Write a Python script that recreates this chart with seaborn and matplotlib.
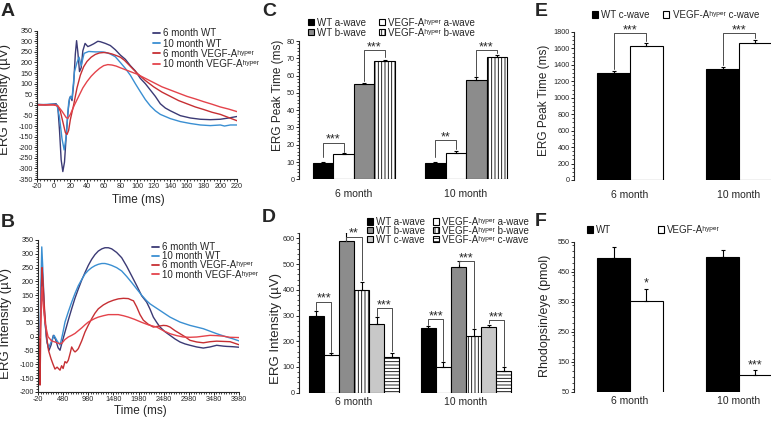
import numpy as np
import pandas as pd
import seaborn as sns
import matplotlib.pyplot as plt
from matplotlib.ticker import MultipleLocator
from matplotlib.patches import Patch
from matplotlib.lines import Line2D

sns.set_style('ticks')
plt.rcParams['font.family'] = ['Liberation Sans', 'DejaVu Sans']
plt.rcParams['axes.unicode_minus'] = False
plt.rcParams['hatch.linewidth'] = 0.6
plt.rcParams['axes.linewidth'] = 0.8

HYP = 'VEGF-A\u02b0\u02b8\u1d56\u1d49\u02b3'

# ---------------- data ----------------
trace_names = ['6 month WT', '10 month WT', '6 month ' + HYP, '10 month ' + HYP]
trace_colors = ['#3b3a75', '#3a8fd2', '#c62f33', '#e4434b']

# A: a/b-wave traces
a_t_wt6 = [-20, -10, 0, 3, 5, 7, 9, 11, 13, 15, 17, 19, 20.5, 22, 24, 26, 27.5, 29, 31, 33, 35, 37.7, 41, 44, 48,
           53, 56, 62, 68, 74, 80, 86, 92, 98, 104, 110, 116, 122, 128, 134, 140, 152, 164, 176, 188, 200, 210, 220]
a_v_wt6 = [3, 0, 4, 5, -10, -120, -260, -315, -270, -150, -40, 30, 40, 20, 100, 240, 303, 250, 157, 175, 255, 290,
           275, 280, 288, 300, 298, 290, 280, 260, 235, 215, 185, 160, 125, 100, 70, 40, 5, -15, -28, -51, -62, -68,
           -70, -68, -62, -55]
a_t_wt10 = [-20, -10, 0, 4, 7, 10, 12.6, 15, 18, 20, 22, 25, 28, 30.5, 33, 36.5, 42, 50, 58, 62, 68, 74, 80, 86, 92,
            98, 104, 110, 116, 122, 128, 140, 152, 164, 176, 188, 200, 205, 212, 220]
a_v_wt10 = [0, 2, 3, 0, -60, -160, -213, -150, 10, 40, 30, 157, 200, 225, 185, 243, 252, 250, 250, 248, 240, 227,
            200, 172, 140, 100, 62, 25, -5, -28, -45, -65, -79, -88, -95, -98, -95, -100, -95, -95]
a_t_vh6 = [-20, 0, 5, 8, 11, 14, 16, 18, 20, 24, 28, 32, 36, 40, 45, 50, 55, 60, 65, 70, 75, 80, 85, 90, 95, 100,
           110, 120, 130, 140, 150, 160, 170, 180, 190, 200, 210, 220]
a_v_vh6 = [0, 0, -5, -30, -80, -130, -140, -120, -70, 0, 80, 140, 180, 205, 225, 238, 245, 247, 245, 240, 233, 225,
           210, 190, 170, 150, 115, 85, 60, 40, 20, 5, -10, -22, -35, -45, -60, -75]
a_t_vh10 = [-20, 0, 5, 10, 15, 17, 20, 25, 30, 35, 40, 45, 50, 55, 60, 65, 70, 75, 80, 90, 100, 110, 120, 130, 140,
            150, 160, 170, 180, 190, 200, 210, 220]
a_v_vh10 = [0, 0, -5, -30, -60, -64, -45, 0, 40, 80, 110, 135, 155, 172, 185, 190, 188, 183, 175, 160, 145, 125, 105,
            85, 70, 55, 40, 28, 15, 3, -10, -20, -32]

# B: c-wave traces
b_t_wt6 = [-20, 0, 20, 40, 60, 80, 120, 160, 200, 240, 285, 330, 380, 418, 460, 517, 583, 650, 717, 783, 850, 915,
           981, 1048, 1113, 1180, 1250, 1313, 1380, 1446, 1545, 1645, 1745, 1845, 1944, 2044, 2143, 2209, 2275, 2342,
           2408, 2507, 2607, 2706, 2806, 2905, 3005, 3138, 3270, 3403, 3536, 3669, 3735, 3850, 3980]
b_v_wt6 = [0, 0, -10, 150, 250, 180, 50, -20, -49, -30, 5, -10, -40, -49, -20, 17, 60, 101, 140, 173, 205, 232, 258,
           280, 297, 310, 318, 322, 322, 318, 305, 286, 255, 220, 185, 148, 125, 100, 71, 52, 35, 18, 5, -8, -19, -26,
           -31, -37, -41, -37, -31, -34, -35, -36, -38]
b_t_wt10 = [-20, 0, 20, 40, 55, 75, 110, 150, 190, 240, 300, 360, 420, 470, 517, 583, 650, 717, 783, 850, 915, 981,
            1048, 1113, 1180, 1250, 1313, 1380, 1446, 1545, 1645, 1745, 1845, 1944, 2044, 2143, 2209, 2308, 2408, 2507,
            2607, 2706, 2806, 2905, 3005, 3138, 3270, 3403, 3536, 3669, 3735, 3850, 3980]
b_v_wt10 = [0, 0, 0, 200, 325, 250, 80, -10, -40, -20, 5, -15, -30, 10, 53, 90, 125, 157, 185, 207, 227, 240, 250,
            257, 262, 265, 265, 262, 258, 250, 238, 218, 196, 173, 150, 130, 119, 107, 95, 83, 71, 62, 53, 47, 41, 35,
            29, 20, 11, 3, -1, -7, -15]
b_t_vh6 = [-20, 0, 10, 20, 30, 45, 60, 80, 110, 150, 190, 240, 280, 318, 360, 418, 450, 480, 517, 550, 583, 620, 650,
           690, 717, 750, 783, 850, 915, 981, 1048, 1113, 1180, 1280, 1380, 1480, 1578, 1680, 1777, 1850, 1880, 1944,
           2010, 2076, 2175, 2275, 2374, 2474, 2540, 2607, 2706, 2806, 2905, 3005, 3138, 3270, 3403, 3536, 3669, 3802,
           3900, 3980]
b_v_vh6 = [0, 0, -100, -175, -50, 150, 250, 200, 100, 0, -50, -80, -100, -117, -110, -121, -105, -115, -90, -95, -85,
           -60, -37, -50, -55, -50, -43, -15, 17, 42, 65, 85, 101, 115, 125, 132, 137, 139, 138, 132, 130, 108, 80, 60,
           45, 35, 38, 41, 40, 35, 22, 11, 0, -13, -19, -22, -18, -16, -17, -18, -24, -29]
b_t_vh10 = [-20, 0, 20, 40, 60, 80, 120, 180, 250, 318, 385, 450, 517, 583, 650, 717, 783, 850, 915, 981, 1048, 1113,
            1180, 1280, 1380, 1480, 1578, 1680, 1777, 1900, 2044, 2176, 2342, 2474, 2607, 2740, 2872, 3005, 3138, 3270,
            3403, 3536, 3669, 3800, 3980]
b_v_vh10 = [0, 0, -5, 100, 180, 120, 50, 0, -15, -19, -24, -25, -10, -1, 5, 12, 22, 32, 43, 53, 60, 66, 71, 76, 80,
            80, 80, 76, 71, 63, 52, 43, 35, 22, 11, 4, -1, -2, -1, 2, 5, 4, 2, -2, -3]

months = ['6 month', '10 month']

# C: peak time (ms)
c_series = ['WT a-wave', HYP + ' a-wave', 'WT b-wave', HYP + ' b-wave']
c_values = [[9.5, 9.5], [14.5, 15.5], [55.0, 57.5], [68.5, 70.5]]
c_errors = [[0.3, 0.3], [0.5, 0.8], [0.6, 1.5], [0.7, 1.5]]

# D: amplitude (uV)
d_series = ['WT a-wave', HYP + ' a-wave', 'WT b-wave', HYP + ' b-wave', 'WT c-wave', HYP + ' c-wave']
d_values = [[300, 250], [145, 100], [590, 490], [400, 222], [268, 255], [140, 85]]
d_errors = [[17, 11], [10, 18], [35, 22], [32, 24], [26, 10], [16, 13]]

# E: c-wave peak time (ms)
e_series = ['WT c-wave', HYP + ' c-wave']
e_values = [[1305, 1350], [1635, 1672]]
e_errors = [[25, 30], [32, 35]]

# F: rhodopsin (pmol)
f_series = ['WT', HYP]
f_values = [[497, 500], [352, 107]]
f_errors = [[36, 24], [42, 15]]

bar_colors = ['black', 'white', '#8c8c8c', 'white', '#c8c8c8', 'white']
bar_hatches = [None, None, None, '|||||', None, '-----']

# ---------------- figure ----------------
W, H = 771, 421
fig = plt.figure(figsize=(W / 100, H / 100), dpi=100)


def px_axes(x0, y0, x1, y1):
    return fig.add_axes([x0 / W, 1 - y1 / H, (x1 - x0) / W, (y1 - y0) / H])


def fxy(x, y):
    return (x / W, 1 - y / H)


def tidy(ax, bottom=True):
    sns.despine(ax=ax, bottom=not bottom)
    ax.tick_params(which='major', labelsize=5.2, length=2, width=0.6, pad=1, color='black')
    ax.tick_params(which='minor', length=1.2, width=0.5, color='black')


def traces_panel(ax, ts, vs):
    frames = [pd.DataFrame({'Time': t, 'ERG': v, 'Trace': n}) for t, v, n in zip(ts, vs, trace_names)]
    df = pd.concat(frames, ignore_index=True)
    sns.lineplot(data=df, x='Time', y='ERG', hue='Trace', hue_order=trace_names,
                 palette=dict(zip(trace_names, trace_colors)), estimator=None, sort=False,
                 linewidth=1.0, legend=False, ax=ax)
    return [Line2D([], [], color=c, lw=1.3) for c in trace_colors]


def bar_panel(ax, series, values, errors, width, pad):
    rows = [(m, s, v) for s, vals in zip(series, values) for m, v in zip(months, vals)]
    df = pd.DataFrame(rows, columns=['Month', 'Series', 'Value'])
    sns.barplot(data=df, x='Month', y='Value', hue='Series', order=months, hue_order=series,
                palette=dict(zip(series, bar_colors[:len(series)])), width=width, gap=0,
                errorbar=None, saturation=1, edgecolor='black', linewidth=0.8, legend=False, ax=ax)
    centers = []
    for cont, hatch, vals, errs in zip(ax.containers, bar_hatches, values, errors):
        xs = [p.get_x() + p.get_width() / 2 for p in cont]
        if hatch:
            for p in cont:
                p.set_hatch(hatch)
        ax.errorbar(xs, vals, yerr=[np.zeros(len(errs)), errs], fmt='none', ecolor='black',
                    elinewidth=0.8, capsize=1.5, capthick=0.8, zorder=3)
        centers.append(xs)
    ax.set_xlabel('')
    tidy(ax, bottom=False)
    ax.tick_params(axis='x', length=0, labelsize=7.5, pad=pad)
    return centers


def bracket(ax, centers, spec):
    m, i, j, yl, top, yr, label = spec
    x1, x2 = centers[i][m], centers[j][m]
    ax.plot([x1, x1, x2, x2], [yl, top, top, yr], color='#4d4d4d', lw=0.7, clip_on=False, zorder=4)
    ax.text((x1 + x2) / 2, top, label, ha='center', va='baseline', fontsize=9, clip_on=False)


def square_handles(n):
    return [Patch(facecolor=bar_colors[k], edgecolor='black', linewidth=0.8, hatch=bar_hatches[k])
            for k in range(n)]


legend_kw = dict(frameon=False, borderpad=0, fontsize=7, handletextpad=0.35, borderaxespad=0)

# ---- A ----
axA = px_axes(37, 30.7, 237, 179)
hA = traces_panel(axA, [a_t_wt6, a_t_wt10, a_t_vh6, a_t_vh10], [a_v_wt6, a_v_wt10, a_v_vh6, a_v_vh10])
axA.set_xlim(-20, 220)
axA.set_ylim(-350, 350)
axA.set_xticks(np.arange(-20, 221, 20))
axA.set_yticks(np.arange(-350, 351, 50))
axA.xaxis.set_minor_locator(MultipleLocator(4))
axA.yaxis.set_minor_locator(MultipleLocator(10))
axA.set_xlabel('Time (ms)', fontsize=8.5)
axA.set_ylabel('ERG Intensity (µV)', fontsize=9.5)
axA.xaxis.set_label_coords(0.507, -0.1)
axA.yaxis.set_label_coords(-0.131, 0.533)
tidy(axA)
axA.legend(hA, trace_names, loc='upper left', bbox_to_anchor=fxy(153, 28.5), bbox_transform=fig.transFigure,
           handlelength=0.7, labelspacing=0.02, **legend_kw)

# ---- B ----
axB = px_axes(38, 240, 239, 392)
hB = traces_panel(axB, [b_t_wt6, b_t_wt10, b_t_vh6, b_t_vh10], [b_v_wt6, b_v_wt10, b_v_vh6, b_v_vh10])
axB.set_xlim(-20, 3980)
axB.set_ylim(-200, 350)
axB.set_xticks(np.arange(-20, 3981, 500))
axB.set_yticks(np.arange(-200, 351, 50))
axB.xaxis.set_minor_locator(MultipleLocator(50, offset=-20))
axB.yaxis.set_minor_locator(MultipleLocator(10))
axB.set_xlabel('Time (ms)', fontsize=8.5)
axB.set_ylabel('ERG Intensity (µV)', fontsize=9.5)
axB.xaxis.set_label_coords(0.507, -0.085)
axB.yaxis.set_label_coords(-0.131, 0.45)
tidy(axB)
axB.legend(hB, trace_names, loc='upper left', bbox_to_anchor=fxy(152, 242), bbox_transform=fig.transFigure,
           handlelength=0.7, labelspacing=-0.08, **legend_kw)

# ---- C ----
axC = px_axes(299, 41, 520, 179.3)
cC = bar_panel(axC, c_series, c_values, c_errors, 0.732, 7)
axC.set_xlim(-0.491, 1.482)
axC.set_ylim(0, 80)
axC.set_yticks(np.arange(0, 81, 10))
axC.yaxis.set_minor_locator(MultipleLocator(2))
axC.set_ylabel('ERG Peak Time (ms)', fontsize=8.5)
axC.yaxis.set_label_coords(-0.068, 0.61)
for spec in [(0, 0, 1, 13, 21.2, 16, '***'), (0, 2, 3, 57, 74.8, 70.5, '***'),
             (1, 0, 1, 13, 22.7, 17.3, '**'), (1, 2, 3, 60, 74.8, 72.8, '***')]:
    bracket(axC, cC, spec)
hC = square_handles(4)
axC.legend([hC[0], hC[2], hC[1], hC[3]], [c_series[0], c_series[2], c_series[1], c_series[3]], ncol=2,
           loc='upper left', bbox_to_anchor=fxy(308, 17.5), bbox_transform=fig.transFigure,
           handlelength=0.6, handleheight=0.6, labelspacing=0.0, columnspacing=1.3, **legend_kw)

# ---- D ----
axD = px_axes(299, 233.2, 520, 392.7)
cD = bar_panel(axD, d_series, d_values, d_errors, 0.804, 3)
axD.set_xlim(-0.491, 1.482)
axD.set_ylim(0, 620)
axD.set_yticks(np.arange(0, 601, 100))
axD.yaxis.set_minor_locator(MultipleLocator(20))
axD.set_ylabel('ERG Intensity (µV)', fontsize=9.5)
axD.yaxis.set_label_coords(-0.075, 0.40)
for spec in [(0, 0, 1, 322, 354, 160, '***'), (0, 2, 3, 590, 606, 437, '**'), (0, 4, 5, 298, 328, 161, '***'),
             (1, 0, 1, 265, 285, 123, '***'), (1, 2, 3, 500, 512, 252, '***'), (1, 4, 5, 270, 282, 103, '***')]:
    bracket(axD, cD, spec)
hD = square_handles(6)
axD.legend([hD[0], hD[2], hD[4], hD[1], hD[3], hD[5]],
           [d_series[0], d_series[2], d_series[4], d_series[1], d_series[3], d_series[5]], ncol=2,
           loc='upper left', bbox_to_anchor=fxy(367, 217), bbox_transform=fig.transFigure,
           handlelength=0.6, handleheight=0.6, labelspacing=-0.12, columnspacing=0.8, **legend_kw)

# ---- E ----
axE = px_axes(574, 32, 771, 180)
cE = bar_panel(axE, e_series, e_values, e_errors, 0.6, 7)
axE.set_xlim(-0.514, 1.294)
axE.set_ylim(0, 1800)
axE.set_yticks(np.arange(0, 1801, 200))
axE.yaxis.set_minor_locator(MultipleLocator(50))
axE.set_ylabel('ERG Peak Time (ms)', fontsize=8.5)
axE.yaxis.set_label_coords(-0.122, 0.536)
for spec in [(0, 0, 1, 1345, 1788, 1690, '***'), (1, 0, 1, 1395, 1788, 1722, '***')]:
    bracket(axE, cE, spec)
hE = square_handles(2)
axE.legend(hE, e_series, ncol=2, loc='upper left', bbox_to_anchor=fxy(592, 10), bbox_transform=fig.transFigure,
           handlelength=0.6, handleheight=0.6, columnspacing=1.4, **legend_kw)

# ---- F ----
axF = px_axes(574, 242, 771, 392)
cF = bar_panel(axF, f_series, f_values, f_errors, 0.6, 3)
axF.set_xlim(-0.514, 1.294)
axF.set_ylim(50, 550)
axF.set_yticks(np.arange(50, 551, 100))
axF.yaxis.set_minor_locator(MultipleLocator(20))
axF.set_ylabel('Rhodopsin/eye (pmol)', fontsize=9)
axF.yaxis.set_label_coords(-0.118, 0.51)
for m, label in [(0, '*'), (1, '***')]:
    axF.text(cF[1][m], f_values[1][m] + f_errors[1][m] + 8, label, ha='center', va='baseline', fontsize=9)
hF = square_handles(2)
axF.legend(hF, f_series, ncol=2, loc='upper left', bbox_to_anchor=fxy(587, 225), bbox_transform=fig.transFigure,
           handlelength=0.6, handleheight=0.6, columnspacing=4.8, **legend_kw)

# panel letters
for letter, x, y in [('A', 1, 3), ('B', 1, 214), ('C', 262, 3), ('D', 262, 209), ('E', 535, 3), ('F', 535, 213)]:
    fig.text(x / W, 1 - y / H, letter, fontsize=14, fontweight='bold', va='top', ha='left')

fig.savefig('out.png', dpi=100)
